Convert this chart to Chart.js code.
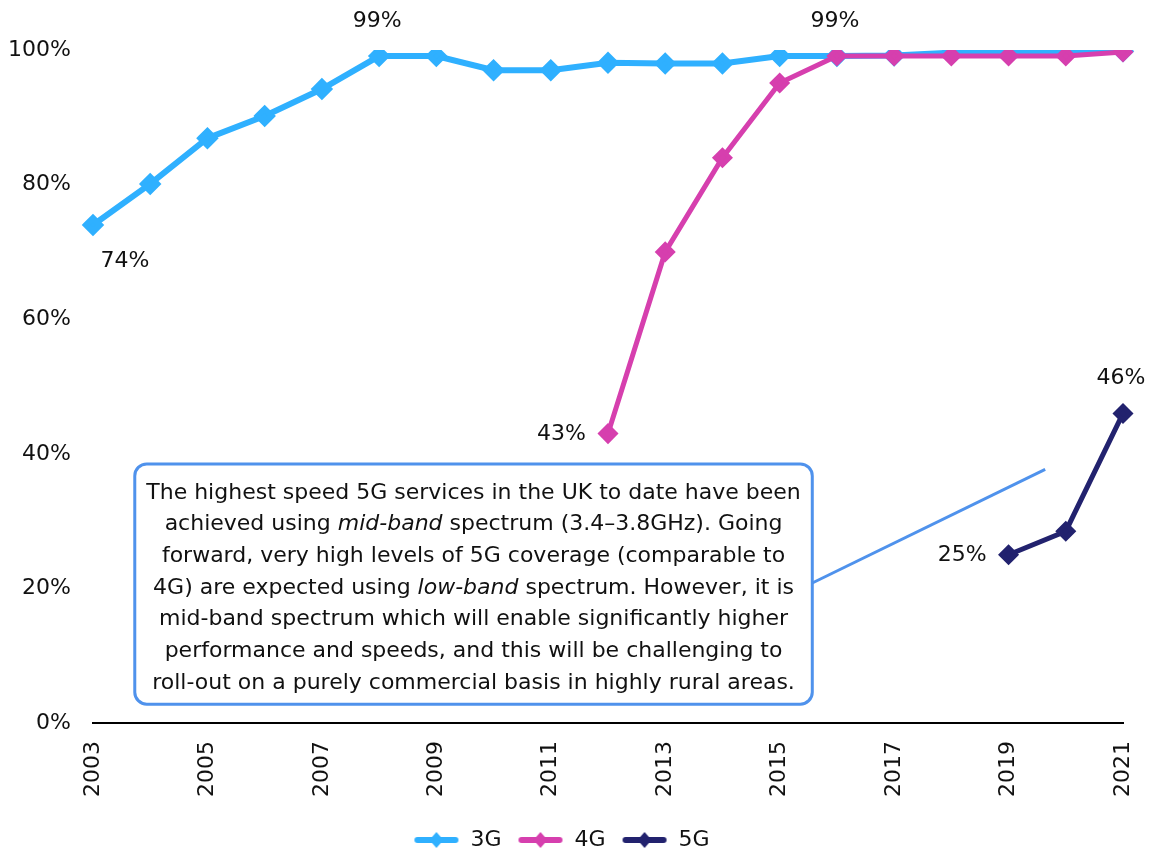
<!DOCTYPE html>
<html>
<head>
<meta charset="utf-8">
<script src="https://cdn.jsdelivr.net/npm/chart.js@4.4.0/dist/chart.umd.min.js"></script>
<style>
  html, body { margin: 0; padding: 0; background: #fff; }
  #wrap { width: 1152px; height: 861px; }
</style>
</head>
<body>
<div id="wrap"><canvas id="coverageChart" width="1152" height="861"></canvas></div>
<script>
// data
var years = ['2003','2004','2005','2006','2007','2008','2009','2010','2011','2012',
             '2013','2014','2015','2016','2017','2018','2019','2020','2021'];
var cov3G = [74, 80.1, 86.9, 90.2, 94.2, 99.1, 99.1, 97, 97, 98.1, 98, 98, 99.1, 99.1, 99.2, 99.6, 99.6, 99.6, 99.8];
var cov4G = [null, null, null, null, null, null, null, null, null, 43, 70, 84, 95.1, 99.1, 99.1, 99.1, 99.1, 99.1, 99.7];
var cov5G = [null, null, null, null, null, null, null, null, null, null, null, null, null, null, null, null, 25, 28.5, 46];
var yTicks = [0, 20, 40, 60, 80, 100];

var colours = { '3G': '#2FB0FF', '4G': '#D63FAE', '5G': '#22226E' };
var FONT = '"DejaVu Sans", sans-serif';

// which points get a value label, and where
var pointLabels = [
  { ds: 0, i: 0,  pos: 'below' },
  { ds: 0, i: 5,  pos: 'above' },
  { ds: 1, i: 13, pos: 'above' },
  { ds: 1, i: 9,  pos: 'left' },
  { ds: 2, i: 16, pos: 'left' },
  { ds: 2, i: 18, pos: 'above' }
];

var noteLines = [
  [['The highest speed 5G services in the UK to date have been', false]],
  [['achieved using ', false], ['mid-band', true], [' spectrum (3.4\u20133.8GHz). Going', false]],
  [['forward, very high levels of 5G coverage (comparable to', false]],
  [['4G) are expected using ', false], ['low-band', true], [' spectrum. However, it is', false]],
  [['mid-band spectrum which will enable significantly higher', false]],
  [['performance and speeds, and this will be challenging to', false]],
  [['roll-out on a purely commercial basis in highly rural areas.', false]]
];

function swatch(col) {
  var c = document.createElement('canvas');
  c.width = 46; c.height = 18;
  var g = c.getContext('2d');
  g.strokeStyle = col; g.lineWidth = 6; g.lineCap = 'round';
  g.beginPath(); g.moveTo(4, 9); g.lineTo(42, 9); g.stroke();
  g.fillStyle = col;
  g.beginPath(); g.moveTo(23, 1); g.lineTo(30, 9); g.lineTo(23, 17); g.lineTo(16, 9); g.closePath(); g.fill();
  return c;
}

var extras = {
  id: 'extras',
  afterDatasetsDraw: function(chart) {
    var ctx = chart.ctx;
    var xs = chart.scales.x, ys = chart.scales.y;

    // value labels
    ctx.save();
    ctx.font = '22px ' + FONT;
    ctx.fillStyle = '#111';
    ctx.textBaseline = 'middle';
    pointLabels.forEach(function(l) {
      var el = chart.getDatasetMeta(l.ds).data[l.i];
      var v = chart.data.datasets[l.ds].data[l.i];
      var txt = Math.round(v) + '%';
      if (l.pos === 'above') { ctx.textAlign = 'center'; ctx.fillText(txt, el.x - 2, el.y - 35); }
      else if (l.pos === 'below') { ctx.textAlign = 'center'; ctx.fillText(txt, el.x + 32, el.y + 36); }
      else { ctx.textAlign = 'right'; ctx.fillText(txt, el.x - 22, el.y + 1); }
    });
    ctx.restore();

    // callout box
    var bx0 = xs.getPixelForValue(0.73), bx1 = xs.getPixelForValue(12.57);
    var by0 = ys.getPixelForValue(38.5), by1 = ys.getPixelForValue(2.8);
    ctx.save();
    ctx.strokeStyle = '#4F92EC';
    ctx.lineWidth = 3;
    ctx.beginPath();
    ctx.moveTo(bx1, ys.getPixelForValue(20.8));
    ctx.lineTo(xs.getPixelForValue(16.64), ys.getPixelForValue(37.7));
    ctx.stroke();
    ctx.beginPath();
    ctx.roundRect(bx0, by0, bx1 - bx0, by1 - by0, 12);
    ctx.fillStyle = '#fff';
    ctx.fill();
    ctx.stroke();

    var cx = (bx0 + bx1) / 2;
    var lh = 31.7;
    var y = by0 + 29;
    ctx.fillStyle = '#111';
    ctx.textBaseline = 'middle';
    ctx.textAlign = 'left';
    noteLines.forEach(function(parts) {
      var w = 0;
      parts.forEach(function(p) {
        ctx.font = (p[1] ? 'italic ' : '') + '22px ' + FONT;
        w += ctx.measureText(p[0]).width;
      });
      var x = cx - w / 2;
      parts.forEach(function(p) {
        ctx.font = (p[1] ? 'italic ' : '') + '22px ' + FONT;
        ctx.fillText(p[0], x, y);
        x += ctx.measureText(p[0]).width;
      });
      y += lh;
    });
    ctx.restore();
  }
};

var ctx = document.getElementById('coverageChart').getContext('2d');
var coverageChart = new Chart(ctx, {
  type: 'line',
  data: {
    labels: years,
    datasets: [
      { label: '3G', data: cov3G, borderColor: colours['3G'], backgroundColor: colours['3G'], borderWidth: 6, order: 3 },
      { label: '4G', data: cov4G, borderColor: colours['4G'], backgroundColor: colours['4G'], borderWidth: 5, order: 2 },
      { label: '5G', data: cov5G, borderColor: colours['5G'], backgroundColor: colours['5G'], borderWidth: 5, order: 1 }
    ]
  },
  options: {
    responsive: false,
    animation: false,
    spanGaps: false,
    elements: {
      line: { tension: 0 },
      point: { pointStyle: 'rectRot', radius: 7, borderWidth: 0, hoverRadius: 7 }
    },
    layout: { padding: { top: 50, right: 29, left: 0, bottom: 0 } },
    scales: {
      x: {
        type: 'category',
        offset: false,
        grid: { display: false },
        border: { display: true, color: '#000', width: 2 },
        ticks: {
          autoSkip: false, minRotation: 90, maxRotation: 90, padding: 10,
          color: '#111', font: { family: FONT, size: 22 },
          callback: function(v, i) { return i % 2 === 0 ? this.getLabelForValue(v) : ''; }
        },
        afterFit: function(s) {
          var lg = s.chart.legend ? s.chart.legend.height : 40;
          s.height = 861 - lg - 723;
          s.paddingLeft = 0;
          s.paddingRight = 0;
        }
      },
      y: {
        min: 0, max: 100,
        grid: { display: false },
        border: { display: false },
        afterBuildTicks: function(s) { s.ticks = yTicks.map(function(v) { return { value: v }; }); },
        ticks: {
          padding: 14, color: '#111', font: { family: FONT, size: 22 },
          callback: function(v) { return v + '%'; }
        },
        afterFit: function(s) { s.width = 93; s.paddingTop = 0; s.paddingBottom = 0; }
      }
    },
    plugins: {
      tooltip: { enabled: false },
      legend: {
        position: 'bottom',
        labels: {
          usePointStyle: true,
          pointStyleWidth: 46,
          padding: 16,
          color: '#111',
          font: { family: FONT, size: 22 },
          generateLabels: function(chart) {
            return chart.data.datasets.map(function(d, i) {
              return { text: d.label, pointStyle: swatch(d.borderColor), fillStyle: d.borderColor,
                       strokeStyle: d.borderColor, lineWidth: 0, hidden: false, datasetIndex: i, fontColor: '#111' };
            });
          }
        }
      }
    }
  },
  plugins: [extras]
});
</script>
</body>
</html>
